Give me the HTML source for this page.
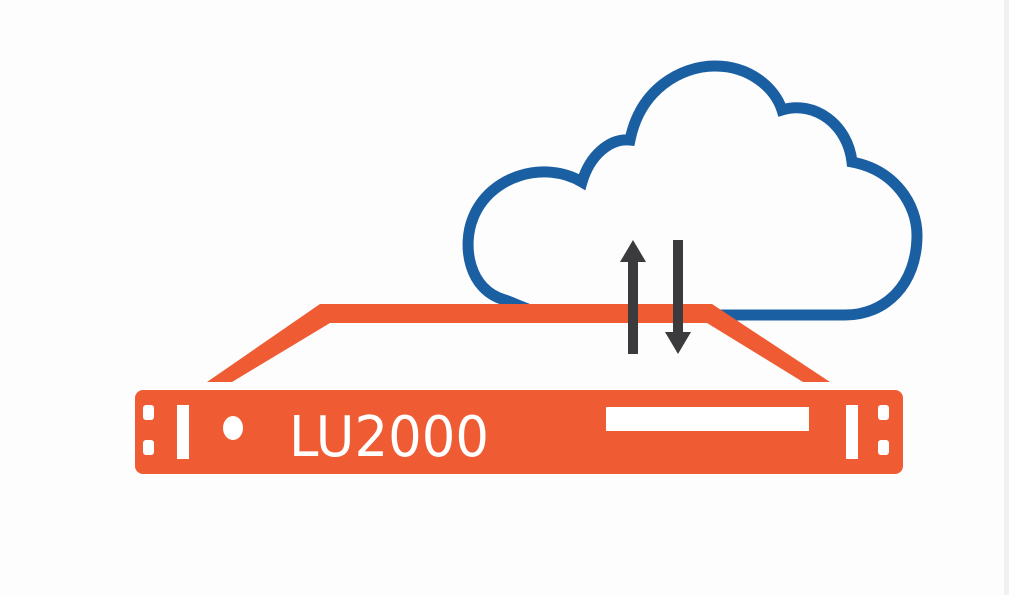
<!DOCTYPE html>
<html><head><meta charset="utf-8"><style>
html,body{margin:0;padding:0;background:#fdfdfd;}
svg{display:block;}
</style></head><body>
<svg width="1009" height="595" viewBox="0 0 1009 595" xmlns="http://www.w3.org/2000/svg">
<rect x="0" y="0" width="1009" height="595" fill="#fdfdfd"/>
<rect x="1004" y="0" width="5" height="595" fill="#f1f1f1"/>
<path d="M 505,300 C 468,290 462,245 473,218 C 490,175 545,160 582,182 C 590,155 610,138 630,140 C 640,90 680,66 715,66 C 750,66 775,88 782,110 C 815,100 848,125 852,162 C 895,170 917,205 917,235 C 917,285 885,315 845,315 L 560,315 C 535,315 520,305 505,300 Z" fill="none" stroke="#1b5fa3" stroke-width="11" stroke-linejoin="miter"/>
<polygon points="207,382 320,304 712,304 830,382 803,382 707,323 330,323 232,382" fill="#ef5c34"/>
<rect x="628" y="260" width="10" height="94" fill="#3b3b3d"/>
<polygon points="633,240 646,262 620,262" fill="#3b3b3d"/>
<rect x="673" y="240" width="10" height="94" fill="#3b3b3d"/>
<polygon points="678,354 665,332 691,332" fill="#3b3b3d"/>
<rect x="135" y="390" width="768" height="84" rx="8" fill="#ef5c34"/>
<rect x="143" y="405" width="11" height="15" rx="3" fill="#fff"/>
<rect x="143" y="440" width="11" height="15" rx="3" fill="#fff"/>
<rect x="177" y="405" width="12" height="54" fill="#fff"/>
<ellipse cx="233" cy="428" rx="10" ry="12" fill="#fff"/>
<text x="289" y="456" font-family="DejaVu Sans, sans-serif" font-size="56" fill="#fff" textLength="200" lengthAdjust="spacingAndGlyphs">LU2000</text>
<rect x="606" y="407" width="203" height="24" fill="#fff"/>
<rect x="846" y="405" width="12" height="54" fill="#fff"/>
<rect x="878" y="405" width="11" height="15" rx="3" fill="#fff"/>
<rect x="878" y="440" width="11" height="15" rx="3" fill="#fff"/>
</svg>
</body></html>
